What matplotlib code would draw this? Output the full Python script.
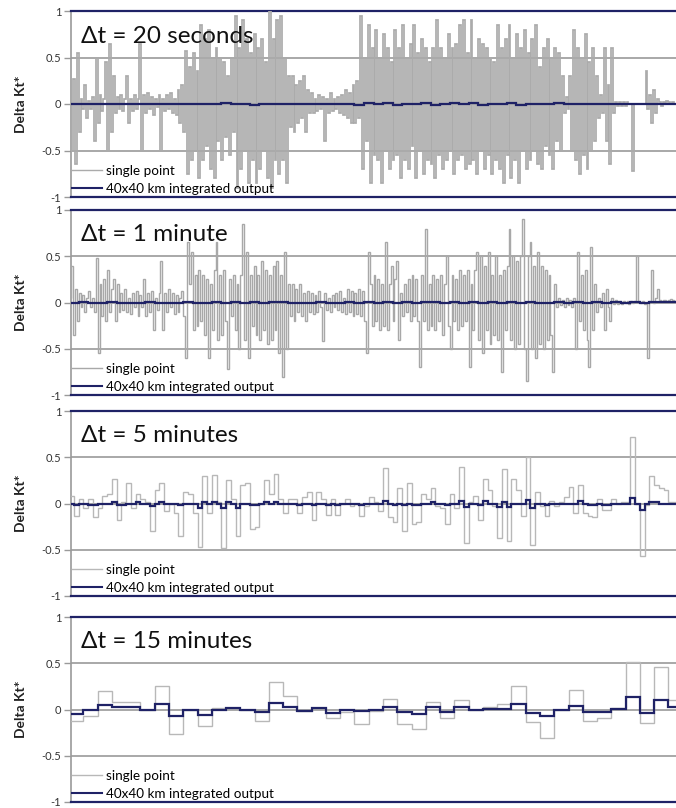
import numpy as np
import matplotlib
matplotlib.use("Agg")
import matplotlib.pyplot as plt
from matplotlib.lines import Line2D

plt.rcParams['font.family'] = ['Lato', 'DejaVu Sans']
plt.rcParams['axes.unicode_minus'] = False

# ---------------- data ----------------
titles = ["\u0394t = 20 seconds", "\u0394t = 1 minute", "\u0394t = 5 minutes", "\u0394t = 15 minutes"]
series_labels = ["single point", "40x40 km integrated output"]
yticks = [-1, -0.5, 0, 0.5, 1]
ytick_labels = ["-1", "-0.5", "0", "0.5", "1"]

# sampling step (minutes) used to draw each series
step_single_1 = 2
step_single_2 = 2
step_single_3 = 5
step_single_4 = 15
step_area_1 = 10
step_area_2 = 10
step_area_3 = 5
step_area_4 = 15

single_20s = [
    0.1, -0.5, 0.27, -0.65, 0.55, -0.3, 0.05, -0.05, 0.2, -0.15,
    0.03, -0.05, 0.08, -0.4, 0.5, -0.2, 0.1, -0.08, 0.05, 0.45,
    -0.5, 0.65, -0.3, 0.3, -0.1, 0.08, -0.05, 0.1, -0.08, 0.05,
    0.3, -0.2, 0.05, -0.08, 0.1, -0.05, 0.05, 0.65, -0.5, 0.1,
    -0.1, 0.12, -0.05, 0.08, -0.12, 0.05, -0.03, 0.1, -0.5, 0.05,
    -0.08, 0.1, -0.05, 0.12, -0.1, 0.05, -0.12, 0.15, -0.2, 0.2,
    -0.3, 0.57, -0.75, 0.4, -0.6, 0.55, -0.5, 0.35, -0.8, 0.85,
    -0.6, 0.7, -0.45, 0.8, -0.7, 0.5, -0.8, 0.6, -0.4, 0.5,
    -0.6, 0.45, -0.35, 0.3, -0.55, 0.5, -0.3, 0.95, -0.9, 0.6,
    -0.7, 0.9, -0.5, 0.7, -0.85, 0.55, -0.6, 0.75, -0.85, 0.6,
    -0.7, 0.7, -0.5, 0.45, -0.8, 1.0, -0.9, 0.7, -0.6, 0.9,
    -0.75, 0.95, -0.6, 0.5, -0.85, 0.3, -0.25, 0.3, -0.3, 0.2,
    -0.2, 0.25, -0.15, 0.3, -0.3, 0.15, -0.1, 0.12, -0.1, 0.05,
    -0.08, 0.1, -0.05, 0.08, -0.4, 0.05, -0.1, 0.12, -0.08, 0.05,
    -0.05, 0.08, -0.1, 0.1, -0.12, 0.15, -0.15, 0.12, -0.2, 0.2,
    -0.2, 0.25, -0.15, 0.95, -0.7, 0.5, -0.4, 0.85, -0.85, 0.6,
    -0.55, 0.8, -0.6, 0.5, -0.85, 0.75, -0.5, 0.6, -0.7, 0.45,
    -0.6, 0.8, -0.55, 0.6, -0.8, 0.85, -0.6, 0.5, -0.7, 0.65,
    -0.45, 0.85, -0.8, 0.55, -0.5, 0.7, -0.75, 0.6, -0.6, 0.45,
    -0.65, 0.6, -0.8, 0.9, -0.55, 0.6, -0.7, 0.5, -0.6, 0.75,
    -0.5, 0.6, -0.75, 0.65, -0.6, 0.85, -0.55, 0.9, -0.7, 0.55,
    -0.65, 0.9, -0.6, 0.5, -0.75, 0.7, -0.5, 0.65, -0.7, 0.6,
    -0.55, 0.5, -0.75, 0.45, -0.6, 0.85, -0.7, 0.6, -0.85, 0.7,
    -0.55, 0.85, -0.8, 0.5, -0.6, 0.75, -0.85, 0.6, -0.5, 0.8,
    -0.7, 0.55, -0.6, 0.7, -0.5, 0.85, -0.65, 0.4, -0.7, 0.6,
    -0.45, 0.7, -0.55, 0.5, -0.7, 0.6, -0.4, 0.55, -0.5, 0.3,
    -0.1, 0.08, -0.05, 0.3, -0.5, 0.8, -0.6, 0.6, -0.75, 0.5,
    -0.55, 0.75, -0.7, 0.45, -0.5, 0.6, -0.4, 0.3, -0.15, 0.1,
    -0.1, 0.6, -0.4, 0.2, -0.65, 0.6, -0.1, 0.02, -0.02, 0.02,
    -0.02, 0.02, -0.02, 0.02, 0.0, 0.0, -0.72, 0.0, 0.0, 0.0,
    0.0, 0.0, 0.0, 0.35, -0.05, 0.1, -0.2, 0.15, -0.1, 0.05,
    0.02, -0.02, 0.02, 0.0, 0.03, 0.02, 0.0, 0.02, 0.0, 0.0,
]
area_20s = [
    0.0, 0.005, -0.005, 0.0, 0.0, 0.005, 0.0, -0.005, 0.0, 0.0,
    0.0, 0.0, 0.005, -0.005, 0.005, 0.0, 0.01, -0.005, 0.005, -0.01,
    0.005, 0.0, 0.005, -0.005, 0.0, 0.0, 0.0, 0.0, 0.0, 0.005,
    -0.01, 0.01, -0.005, 0.01, -0.01, 0.005, -0.005, 0.01, -0.01, 0.005,
    0.01, -0.005, 0.01, -0.01, 0.005, -0.005, 0.01, -0.01, 0.005, 0.0,
    0.0, 0.01, -0.005, 0.0, 0.005, -0.005, 0.0, 0.0, 0.0, 0.0,
    0.0, 0.0, 0.0, 0.0,
]

single_1min = [
    0.05, 0.4, -0.35, 0.15, -0.2, 0.1, -0.05, 0.08, -0.1, 0.05,
    0.12, -0.05, 0.05, -0.1, 0.48, -0.55, 0.2, -0.15, 0.25, -0.2,
    0.35, -0.1, 0.15, 0.25, -0.2, 0.2, -0.1, 0.1, -0.08, 0.15,
    -0.1, 0.05, -0.12, 0.1, -0.05, 0.12, -0.15, 0.08, -0.05, 0.25,
    -0.15, 0.1, -0.1, 0.12, -0.3, 0.05, -0.08, 0.1, 0.45, -0.3,
    0.1, -0.1, 0.15, -0.05, 0.1, -0.12, 0.08, -0.1, 0.05, 0.12,
    -0.15, -0.6, 0.65, 0.2, 0.55, -0.3, 0.3, -0.25, 0.35, -0.2,
    0.3, -0.35, 0.25, -0.6, 0.2, -0.3, 0.35, 0.65, -0.4, 0.3,
    -0.35, 0.35, -0.2, -0.72, 0.25, -0.15, 0.3, -0.3, 0.2, -0.5,
    0.3, 0.85, -0.4, 0.55, -0.6, 0.3, -0.25, 0.4, -0.35, 0.3,
    -0.4, 0.45, -0.3, 0.35, -0.45, 0.3, -0.4, 0.4, -0.3, 0.45,
    -0.55, 0.3, -0.8, 0.55, -0.5, 0.2, -0.15, 0.2, -0.2, 0.15,
    -0.1, 0.2, -0.15, 0.1, -0.2, 0.12, -0.1, 0.1, -0.12, 0.08,
    -0.1, 0.12, -0.05, -0.42, 0.1, -0.08, 0.05, -0.1, 0.08, -0.05,
    0.1, -0.08, 0.12, -0.1, 0.05, -0.12, 0.15, -0.1, 0.12, -0.15,
    0.1, -0.12, 0.15, -0.15, 0.12, -0.2, -0.55, 0.55, 0.2, -0.25,
    0.3, -0.2, 0.25, -0.3, 0.2, -0.25, 0.65, -0.3, 0.2, 0.4,
    -0.2, 0.25, 0.45, -0.4, 0.1, -0.15, 0.2, -0.1, 0.25, -0.2,
    0.3, -0.15, 0.25, -0.2, -0.7, 0.3, -0.2, 0.8, -0.3, 0.2,
    -0.25, 0.3, -0.3, 0.25, -0.2, 0.3, -0.35, 0.2, 0.5, -0.25,
    -0.5, 0.3, -0.2, 0.25, -0.3, 0.35, -0.25, 0.3, -0.2, 0.35,
    -0.7, 0.2, -0.3, 0.35, 0.55, -0.4, 0.5, -0.55, 0.4, -0.3,
    0.55, -0.45, 0.3, -0.35, 0.5, -0.4, 0.3, -0.75, 0.35, -0.3,
    0.4, 0.8, -0.4, 0.5, -0.5, 0.45, -0.45, 0.5, 0.9, -0.5,
    -0.85, 0.5, 0.65, -0.5, 0.4, -0.6, 0.55, -0.45, 0.4, -0.5,
    0.35, -0.4, 0.3, -0.35, -0.75, 0.2, -0.05, 0.05, -0.03, 0.03,
    -0.05, 0.05, -0.03, 0.03, -0.05, 0.05, -0.5, 0.55, -0.2, 0.3,
    -0.3, 0.35, -0.4, -0.7, 0.6, -0.3, 0.2, -0.1, 0.05, -0.05,
    0.1, -0.3, 0.15, -0.05, -0.2, 0.05, -0.02, 0.03, -0.02, 0.02,
    -0.02, 0.02, 0.0, 0.02, -0.02, 0.02, 0.0, 0.02, 0.5, 0.02,
    0.0, 0.02, -0.02, 0.0, -0.6, 0.02, 0.35, 0.0, 0.05, 0.15,
    0.03, 0.02, 0.03, 0.03, 0.02, 0.03, 0.04, 0.03, 0.02, 0.03,
]
area_1min = [
    0.0, 0.005, -0.005, 0.0, 0.005, 0.0, -0.005, 0.0, 0.005, 0.0,
    0.0, -0.005, 0.005, 0.0, 0.0, 0.005, -0.005, 0.01, -0.005, 0.005,
    -0.01, 0.005, 0.01, -0.005, 0.0, 0.0, 0.005, 0.0, 0.0, 0.005,
    -0.005, 0.01, -0.005, 0.005, -0.01, 0.01, -0.005, 0.005, 0.01, -0.005,
    0.005, -0.01, 0.01, -0.005, 0.01, -0.005, 0.01, -0.01, 0.005, 0.0,
    0.0, 0.005, -0.005, 0.01, -0.005, 0.005, 0.0, 0.005, 0.0, 0.005,
    0.0, 0.005, 0.005, 0.005,
]

single_5min = [
    0.08, -0.13, 0.05, -0.05, 0.05, -0.15, -0.05, 0.08, 0.1, 0.27,
    -0.18, 0.02, 0.22, -0.05, 0.1, 0.05, 0.02, -0.3, 0.15, 0.22,
    -0.08, 0.0, -0.1, -0.35, 0.12, 0.1, -0.1, -0.47, 0.3, -0.1,
    0.31, 0.02, -0.48, 0.25, 0.05, -0.35, 0.2, 0.22, -0.28, -0.25,
    0.0, 0.25, 0.1, 0.32, 0.05, -0.1, 0.05, 0.05, -0.1, 0.07,
    0.12, -0.18, 0.12, 0.05, -0.12, 0.05, -0.12, 0.0, 0.05, -0.03,
    0.0, -0.13, -0.03, 0.07, 0.02, -0.08, 0.38, -0.15, -0.2, 0.17,
    -0.3, 0.22, -0.22, -0.2, 0.1, 0.05, 0.17, -0.03, -0.05, -0.22,
    0.1, -0.05, 0.4, -0.43, 0.02, 0.08, -0.18, 0.27, 0.15, -0.03,
    -0.37, 0.37, -0.4, 0.27, 0.15, -0.13, 0.5, -0.45, 0.12, -0.03,
    -0.13, 0.03, -0.03, 0.02, 0.07, 0.18, -0.1, 0.2, -0.1, -0.13,
    -0.15, 0.05, -0.07, -0.07, 0.05, 0.0, 0.02, 0.02, 0.72, 0.0,
    -0.57, -0.02, 0.3, 0.2, 0.17, 0.15, 0.02, 0.02,
]
area_5min = [
    0.0, -0.02, 0.0, 0.0, -0.02, -0.02, 0.0, 0.0, 0.0, 0.02,
    -0.02, -0.02, 0.0, 0.0, 0.02, 0.0, 0.0, -0.03, 0.0, 0.02,
    0.0, 0.0, 0.0, -0.02, 0.0, 0.0, 0.0, -0.05, 0.02, 0.0,
    0.02, 0.0, -0.05, 0.02, 0.0, -0.05, 0.0, 0.0, -0.02, -0.02,
    0.0, 0.02, 0.0, 0.02, 0.0, 0.0, 0.0, 0.0, -0.02, 0.0,
    0.0, -0.02, 0.0, 0.0, -0.02, 0.0, -0.02, 0.0, 0.0, 0.0,
    0.0, -0.02, 0.0, 0.0, 0.0, 0.0, 0.03, 0.0, -0.02, 0.0,
    -0.02, 0.0, -0.02, -0.02, 0.0, 0.0, 0.02, 0.0, 0.0, -0.02,
    0.0, 0.0, 0.03, -0.04, 0.0, 0.0, -0.02, 0.03, 0.0, 0.0,
    -0.04, 0.02, -0.04, 0.0, 0.0, 0.0, 0.04, -0.05, 0.0, 0.0,
    -0.02, 0.0, 0.0, 0.0, 0.0, 0.0, 0.0, 0.03, 0.0, -0.02,
    -0.02, 0.0, -0.02, -0.02, 0.0, 0.0, 0.0, 0.0, 0.06, 0.0,
    -0.07, 0.0, 0.02, 0.02, 0.0, 0.0, 0.0, 0.0,
]

single_15min = [
    -0.12, -0.07, 0.2, 0.086, 0.086, 0.0, 0.25, -0.26, 0.0, -0.18,
    0.02, 0.02, 0.0, -0.125, 0.3, 0.15, -0.02, 0.02, -0.09, -0.03,
    -0.155, -0.02, 0.11, -0.16, -0.21, 0.086, -0.09, 0.1, 0.0, 0.025,
    0.06, 0.25, -0.14, -0.31, 0.0, 0.21, -0.125, -0.09, 0.02, 0.51,
    -0.15, 0.46, 0.1,
]
area_15min = [
    -0.05, -0.01, 0.047, 0.025, 0.025, -0.01, 0.06, -0.065, 0.0, -0.055,
    0.0, 0.02, -0.01, -0.03, 0.065, 0.03, -0.02, 0.02, -0.04, -0.01,
    -0.02, -0.01, 0.03, -0.03, -0.045, 0.03, -0.03, 0.03, 0.0, 0.007,
    0.007, 0.06, -0.04, -0.075, 0.0, 0.043, -0.025, -0.03, 0.007, 0.13,
    -0.04, 0.105, 0.025,
]

panels = [
    (titles[0], single_20s, step_single_1, area_20s, step_area_1),
    (titles[1], single_1min, step_single_2, area_1min, step_area_2),
    (titles[2], single_5min, step_single_3, area_5min, step_area_3),
    (titles[3], single_15min, step_single_4, area_15min, step_area_4),
]

# ---------------- style ----------------
W, H = 676, 808
fig = plt.figure(figsize=(W / 100, H / 100), dpi=100)
boxes = [(11, 197), (210, 395), (411, 596), (617, 802)]
left_px = 71

gray_c = ["#ababab", "#a8a8a8", "#b8b8b8", "#b8b8b8"]
gray_lw = [1.25, 1.0, 1.0, 1.0]
navy = "#1f2266"
grid_c = "#9a9a9a"

for idx, ((title, sv, sdt, av, adt), (top, bot)) in enumerate(zip(panels, boxes)):
    ax = fig.add_axes([left_px / W, 1 - bot / H, (W - left_px) / W, (bot - top) / H])
    sv = np.asarray(sv, dtype=float)
    av = np.asarray(av, dtype=float)
    se = np.arange(len(sv) + 1) * sdt
    ae = np.arange(len(av) + 1) * adt
    ax.stairs(sv, se, baseline=None, color=gray_c[idx], lw=gray_lw[idx], zorder=3)
    ax.stairs(av, ae, baseline=None, color=navy, lw=1.6, zorder=4)
    ax.set_xlim(2, 638)
    ax.set_ylim(-1, 1)
    ax.set_yticks(yticks)
    ax.set_yticklabels(ytick_labels)
    ax.set_xticks([])
    for y in (-0.5, 0, 0.5):
        ax.axhline(y, color=grid_c, lw=1.2, zorder=1)
    ax.spines['right'].set_visible(False)
    ax.spines['top'].set_color(navy)
    ax.spines['bottom'].set_color(navy)
    ax.spines['top'].set_linewidth(1.6)
    ax.spines['bottom'].set_linewidth(1.6)
    ax.spines['left'].set_color(grid_c)
    ax.spines['left'].set_linewidth(1.2)
    ax.tick_params(axis='y', length=5, width=1, color=grid_c, labelsize=8,
                   labelcolor="#333333", pad=2)
    ax.set_ylabel("Delta Kt*", fontsize=10, fontweight='bold', color="#222222")
    ax.yaxis.set_label_coords(-0.073, 0.5)
    ax.text(0.016, 0.865, title, transform=ax.transAxes, fontsize=17.5,
            va='center', ha='left', color="#111111", zorder=6)
    hl = [Line2D([], [], color=gray_c[idx], lw=1.0),
          Line2D([], [], color=navy, lw=1.5)]
    ax.legend(hl, series_labels, loc='lower left', bbox_to_anchor=(0.002, 0.012),
              frameon=False, fontsize=9.7, handlelength=2.2, handletextpad=0.3,
              labelspacing=0.45, borderaxespad=0.0, borderpad=0.0)

fig.savefig("out.png", dpi=100)
